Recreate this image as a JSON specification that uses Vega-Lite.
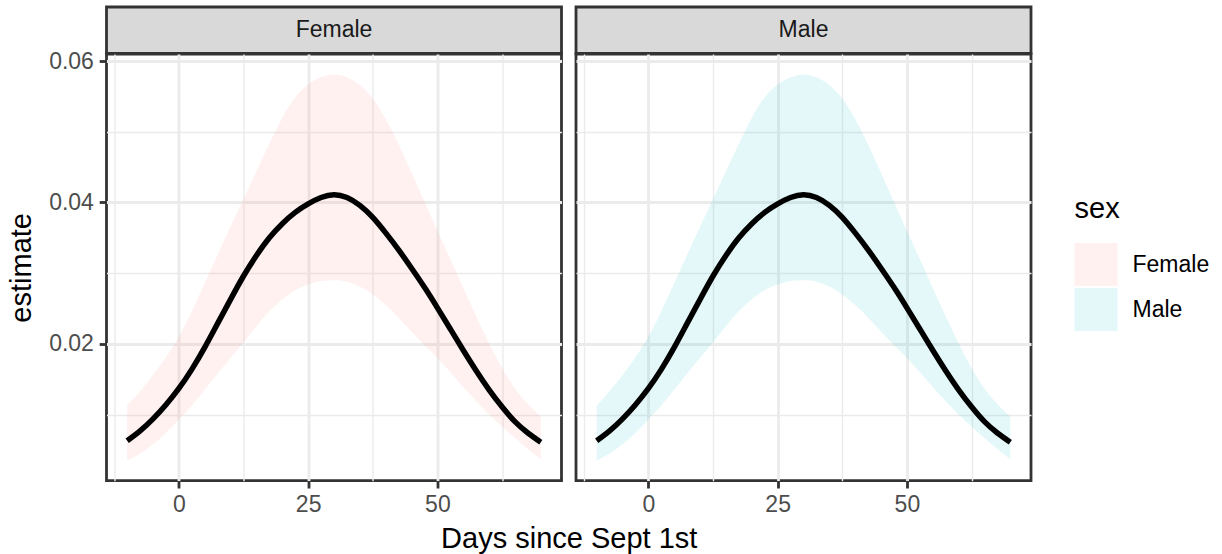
{
  "$schema": "https://vega.github.io/schema/vega-lite/v6.json",
  "padding": {"left": 5.5, "top": 5, "right": 0, "bottom": 0},
  "config": {
    "font": "Liberation Sans",
    "view": {"stroke": "#333333", "strokeWidth": 2.8},
    "axis": {
      "grid": true, "gridColor": "#EBEBEB", "domain": false,
      "labelFontSize": 23, "labelColor": "#4D4D4D", "labelFont": "Liberation Sans",
      "tickColor": "#333333", "tickWidth": 2.8, "tickSize": 7.3, "labelPadding": 5.8,
      "titleFontSize": 29, "titleFontWeight": "normal", "titleColor": "#000000", "titleFont": "Liberation Sans", "titlePadding": 7.3
    },
    "legend": {
      "orient": "none", "legendX": 968, "legendY": 188, "padding": 0,
      "titleFontSize": 29, "titleFontWeight": "normal", "titleColor": "#000000", "titleFont": "Liberation Sans", "titlePadding": 19,
      "labelFontSize": 23, "labelColor": "#000000", "labelFont": "Liberation Sans", "labelOffset": 15,
      "symbolType": "square", "symbolSize": 1849, "symbolOpacity": 0.1, "symbolStrokeWidth": 0, "rowPadding": 2
    }
  },
  "datasets": {
    "d": [
      {"sex": "Female", "day": -10, "estimate": 0.0063, "lower": 0.0035, "upper": 0.0113},
      {"sex": "Female", "day": -7.5, "estimate": 0.0077, "lower": 0.0045, "upper": 0.0133},
      {"sex": "Female", "day": -5, "estimate": 0.0094, "lower": 0.0058, "upper": 0.0156},
      {"sex": "Female", "day": -2.5, "estimate": 0.0114, "lower": 0.0074, "upper": 0.0181},
      {"sex": "Female", "day": 0, "estimate": 0.0137, "lower": 0.0093, "upper": 0.0210},
      {"sex": "Female", "day": 2.5, "estimate": 0.0164, "lower": 0.0113, "upper": 0.0246},
      {"sex": "Female", "day": 5, "estimate": 0.0195, "lower": 0.0135, "upper": 0.0286},
      {"sex": "Female", "day": 7.5, "estimate": 0.0229, "lower": 0.0158, "upper": 0.0326},
      {"sex": "Female", "day": 10, "estimate": 0.0263, "lower": 0.0180, "upper": 0.0366},
      {"sex": "Female", "day": 12.5, "estimate": 0.0296, "lower": 0.0202, "upper": 0.0405},
      {"sex": "Female", "day": 15, "estimate": 0.0325, "lower": 0.0225, "upper": 0.0444},
      {"sex": "Female", "day": 17.5, "estimate": 0.0350, "lower": 0.0246, "upper": 0.0483},
      {"sex": "Female", "day": 20, "estimate": 0.0370, "lower": 0.0263, "upper": 0.0520},
      {"sex": "Female", "day": 22.5, "estimate": 0.0386, "lower": 0.0276, "upper": 0.0549},
      {"sex": "Female", "day": 25, "estimate": 0.0398, "lower": 0.0284, "upper": 0.0567},
      {"sex": "Female", "day": 27.5, "estimate": 0.0407, "lower": 0.0289, "upper": 0.0577},
      {"sex": "Female", "day": 30, "estimate": 0.0411, "lower": 0.0290, "upper": 0.0581},
      {"sex": "Female", "day": 32.5, "estimate": 0.0407, "lower": 0.0288, "upper": 0.0577},
      {"sex": "Female", "day": 35, "estimate": 0.0396, "lower": 0.0281, "upper": 0.0566},
      {"sex": "Female", "day": 37.5, "estimate": 0.0379, "lower": 0.0270, "upper": 0.0547},
      {"sex": "Female", "day": 40, "estimate": 0.0357, "lower": 0.0255, "upper": 0.0518},
      {"sex": "Female", "day": 42.5, "estimate": 0.0333, "lower": 0.0237, "upper": 0.0482},
      {"sex": "Female", "day": 45, "estimate": 0.0307, "lower": 0.0217, "upper": 0.0442},
      {"sex": "Female", "day": 47.5, "estimate": 0.0280, "lower": 0.0198, "upper": 0.0401},
      {"sex": "Female", "day": 50, "estimate": 0.0251, "lower": 0.0180, "upper": 0.0360},
      {"sex": "Female", "day": 52.5, "estimate": 0.0221, "lower": 0.0160, "upper": 0.0320},
      {"sex": "Female", "day": 55, "estimate": 0.0191, "lower": 0.0139, "upper": 0.0279},
      {"sex": "Female", "day": 57.5, "estimate": 0.0162, "lower": 0.0119, "upper": 0.0239},
      {"sex": "Female", "day": 60, "estimate": 0.0135, "lower": 0.0100, "upper": 0.0201},
      {"sex": "Female", "day": 62.5, "estimate": 0.0111, "lower": 0.0083, "upper": 0.0166},
      {"sex": "Female", "day": 65, "estimate": 0.0090, "lower": 0.0067, "upper": 0.0137},
      {"sex": "Female", "day": 67.5, "estimate": 0.0074, "lower": 0.0051, "upper": 0.0115},
      {"sex": "Female", "day": 70, "estimate": 0.0061, "lower": 0.0037, "upper": 0.0097},
      {"sex": "Male", "day": -10, "estimate": 0.0063, "lower": 0.0035, "upper": 0.0113},
      {"sex": "Male", "day": -7.5, "estimate": 0.0077, "lower": 0.0045, "upper": 0.0133},
      {"sex": "Male", "day": -5, "estimate": 0.0094, "lower": 0.0058, "upper": 0.0156},
      {"sex": "Male", "day": -2.5, "estimate": 0.0114, "lower": 0.0074, "upper": 0.0181},
      {"sex": "Male", "day": 0, "estimate": 0.0137, "lower": 0.0093, "upper": 0.0210},
      {"sex": "Male", "day": 2.5, "estimate": 0.0164, "lower": 0.0113, "upper": 0.0246},
      {"sex": "Male", "day": 5, "estimate": 0.0195, "lower": 0.0135, "upper": 0.0286},
      {"sex": "Male", "day": 7.5, "estimate": 0.0229, "lower": 0.0158, "upper": 0.0326},
      {"sex": "Male", "day": 10, "estimate": 0.0263, "lower": 0.0180, "upper": 0.0366},
      {"sex": "Male", "day": 12.5, "estimate": 0.0296, "lower": 0.0202, "upper": 0.0405},
      {"sex": "Male", "day": 15, "estimate": 0.0325, "lower": 0.0225, "upper": 0.0444},
      {"sex": "Male", "day": 17.5, "estimate": 0.0350, "lower": 0.0246, "upper": 0.0483},
      {"sex": "Male", "day": 20, "estimate": 0.0370, "lower": 0.0263, "upper": 0.0520},
      {"sex": "Male", "day": 22.5, "estimate": 0.0386, "lower": 0.0276, "upper": 0.0549},
      {"sex": "Male", "day": 25, "estimate": 0.0398, "lower": 0.0284, "upper": 0.0567},
      {"sex": "Male", "day": 27.5, "estimate": 0.0407, "lower": 0.0289, "upper": 0.0577},
      {"sex": "Male", "day": 30, "estimate": 0.0411, "lower": 0.0290, "upper": 0.0581},
      {"sex": "Male", "day": 32.5, "estimate": 0.0407, "lower": 0.0288, "upper": 0.0577},
      {"sex": "Male", "day": 35, "estimate": 0.0396, "lower": 0.0281, "upper": 0.0566},
      {"sex": "Male", "day": 37.5, "estimate": 0.0379, "lower": 0.0270, "upper": 0.0547},
      {"sex": "Male", "day": 40, "estimate": 0.0357, "lower": 0.0255, "upper": 0.0518},
      {"sex": "Male", "day": 42.5, "estimate": 0.0333, "lower": 0.0237, "upper": 0.0482},
      {"sex": "Male", "day": 45, "estimate": 0.0307, "lower": 0.0217, "upper": 0.0442},
      {"sex": "Male", "day": 47.5, "estimate": 0.0280, "lower": 0.0198, "upper": 0.0401},
      {"sex": "Male", "day": 50, "estimate": 0.0251, "lower": 0.0180, "upper": 0.0360},
      {"sex": "Male", "day": 52.5, "estimate": 0.0221, "lower": 0.0160, "upper": 0.0320},
      {"sex": "Male", "day": 55, "estimate": 0.0191, "lower": 0.0139, "upper": 0.0279},
      {"sex": "Male", "day": 57.5, "estimate": 0.0162, "lower": 0.0119, "upper": 0.0239},
      {"sex": "Male", "day": 60, "estimate": 0.0135, "lower": 0.0100, "upper": 0.0201},
      {"sex": "Male", "day": 62.5, "estimate": 0.0111, "lower": 0.0083, "upper": 0.0166},
      {"sex": "Male", "day": 65, "estimate": 0.0090, "lower": 0.0067, "upper": 0.0137},
      {"sex": "Male", "day": 67.5, "estimate": 0.0074, "lower": 0.0051, "upper": 0.0115},
      {"sex": "Male", "day": 70, "estimate": 0.0061, "lower": 0.0037, "upper": 0.0097}
    ]
  },
  "columns": 2,
  "spacing": {"row": 0, "column": 14.5},
  "bounds": "flush",
  "resolve": {"scale": {"color": "shared", "x": "independent", "y": "independent"}, "legend": {"color": "shared"}},
  "concat": [
    {
      "width": 455, "height": 46.3,
      "view": {"fill": "#D9D9D9", "stroke": "#333333", "strokeWidth": 2.8},
      "data": {"values": [{"label": "Female"}]},
      "mark": {"type": "text", "fontSize": 23, "color": "#1A1A1A", "font": "Liberation Sans"},
      "encoding": {"text": {"field": "label", "type": "nominal"}}
    },
    {
      "width": 455, "height": 46.3,
      "view": {"fill": "#D9D9D9", "stroke": "#333333", "strokeWidth": 2.8},
      "data": {"values": [{"label": "Male"}]},
      "mark": {"type": "text", "fontSize": 23, "color": "#1A1A1A", "font": "Liberation Sans"},
      "encoding": {"text": {"field": "label", "type": "nominal"}}
    },
    {
      "width": 455, "height": 426.7,
      "data": {"name": "d"},
      "transform": [{"filter": "datum.sex === 'Female'"}],
      "layer": [
        {
          "mark": {"type": "area", "opacity": 0.1, "interpolate": "natural"},
          "encoding": {
            "x": {"field": "day", "type": "quantitative",
              "scale": {"domain": [-14, 74], "nice": false, "zero": false},
              "axis": {"values": [-12.5, 0, 12.5, 25, 37.5, 50, 62.5], "format": "d",
                "labelExpr": "datum.value % 25 === 0 ? datum.label : ''",
                "gridWidth": {"condition": {"test": "datum.value % 25 === 0", "value": 2.8}, "value": 1.4},
                "tickOpacity": {"condition": {"test": "datum.value % 25 === 0", "value": 1}, "value": 0},
                "title": "Days since Sept 1st", "titleX": 462.25}},
            "y": {"field": "upper", "type": "quantitative",
              "scale": {"domain": [0.00065, 0.061], "nice": false, "zero": false},
              "axis": {"values": [0.01, 0.02, 0.03, 0.04, 0.05, 0.06], "format": ".2f",
                "labelExpr": "round(datum.value * 100) % 2 === 0 ? datum.label : ''",
                "gridWidth": {"condition": {"test": "round(datum.value * 100) % 2 === 0", "value": 2.8}, "value": 1.4},
                "tickOpacity": {"condition": {"test": "round(datum.value * 100) % 2 === 0", "value": 1}, "value": 0},
                "title": "estimate", "titlePadding": 12}},
            "y2": {"field": "lower"},
            "color": {"field": "sex", "type": "nominal",
              "scale": {"domain": ["Female", "Male"], "range": ["#F8766D", "#00BFC4"]},
              "legend": {"title": "sex"}}
          }
        },
        {
          "mark": {"type": "line", "color": "#000000", "strokeWidth": 5.5, "interpolate": "natural", "strokeCap": "butt"},
          "encoding": {
            "x": {"field": "day", "type": "quantitative"},
            "y": {"field": "estimate", "type": "quantitative", "axis": {"title": "estimate", "titlePadding": 12}}
          }
        }
      ]
    },
    {
      "width": 455, "height": 426.7,
      "data": {"name": "d"},
      "transform": [{"filter": "datum.sex === 'Male'"}],
      "layer": [
        {
          "mark": {"type": "area", "opacity": 0.1, "interpolate": "natural"},
          "encoding": {
            "x": {"field": "day", "type": "quantitative",
              "scale": {"domain": [-14, 74], "nice": false, "zero": false},
              "axis": {"values": [-12.5, 0, 12.5, 25, 37.5, 50, 62.5], "format": "d",
                "labelExpr": "datum.value % 25 === 0 ? datum.label : ''",
                "gridWidth": {"condition": {"test": "datum.value % 25 === 0", "value": 2.8}, "value": 1.4},
                "tickOpacity": {"condition": {"test": "datum.value % 25 === 0", "value": 1}, "value": 0},
                "title": null}},
            "y": {"field": "upper", "type": "quantitative",
              "scale": {"domain": [0.00065, 0.061], "nice": false, "zero": false},
              "axis": {"values": [0.01, 0.02, 0.03, 0.04, 0.05, 0.06],
                "labels": false, "ticks": false, "title": null,
                "gridWidth": {"condition": {"test": "round(datum.value * 100) % 2 === 0", "value": 2.8}, "value": 1.4}}},
            "y2": {"field": "lower"},
            "color": {"field": "sex", "type": "nominal",
              "scale": {"domain": ["Female", "Male"], "range": ["#F8766D", "#00BFC4"]},
              "legend": {"title": "sex"}}
          }
        },
        {
          "mark": {"type": "line", "color": "#000000", "strokeWidth": 5.5, "interpolate": "natural", "strokeCap": "butt"},
          "encoding": {
            "x": {"field": "day", "type": "quantitative"},
            "y": {"field": "estimate", "type": "quantitative", "axis": {"title": null}}
          }
        }
      ]
    }
  ]
}
